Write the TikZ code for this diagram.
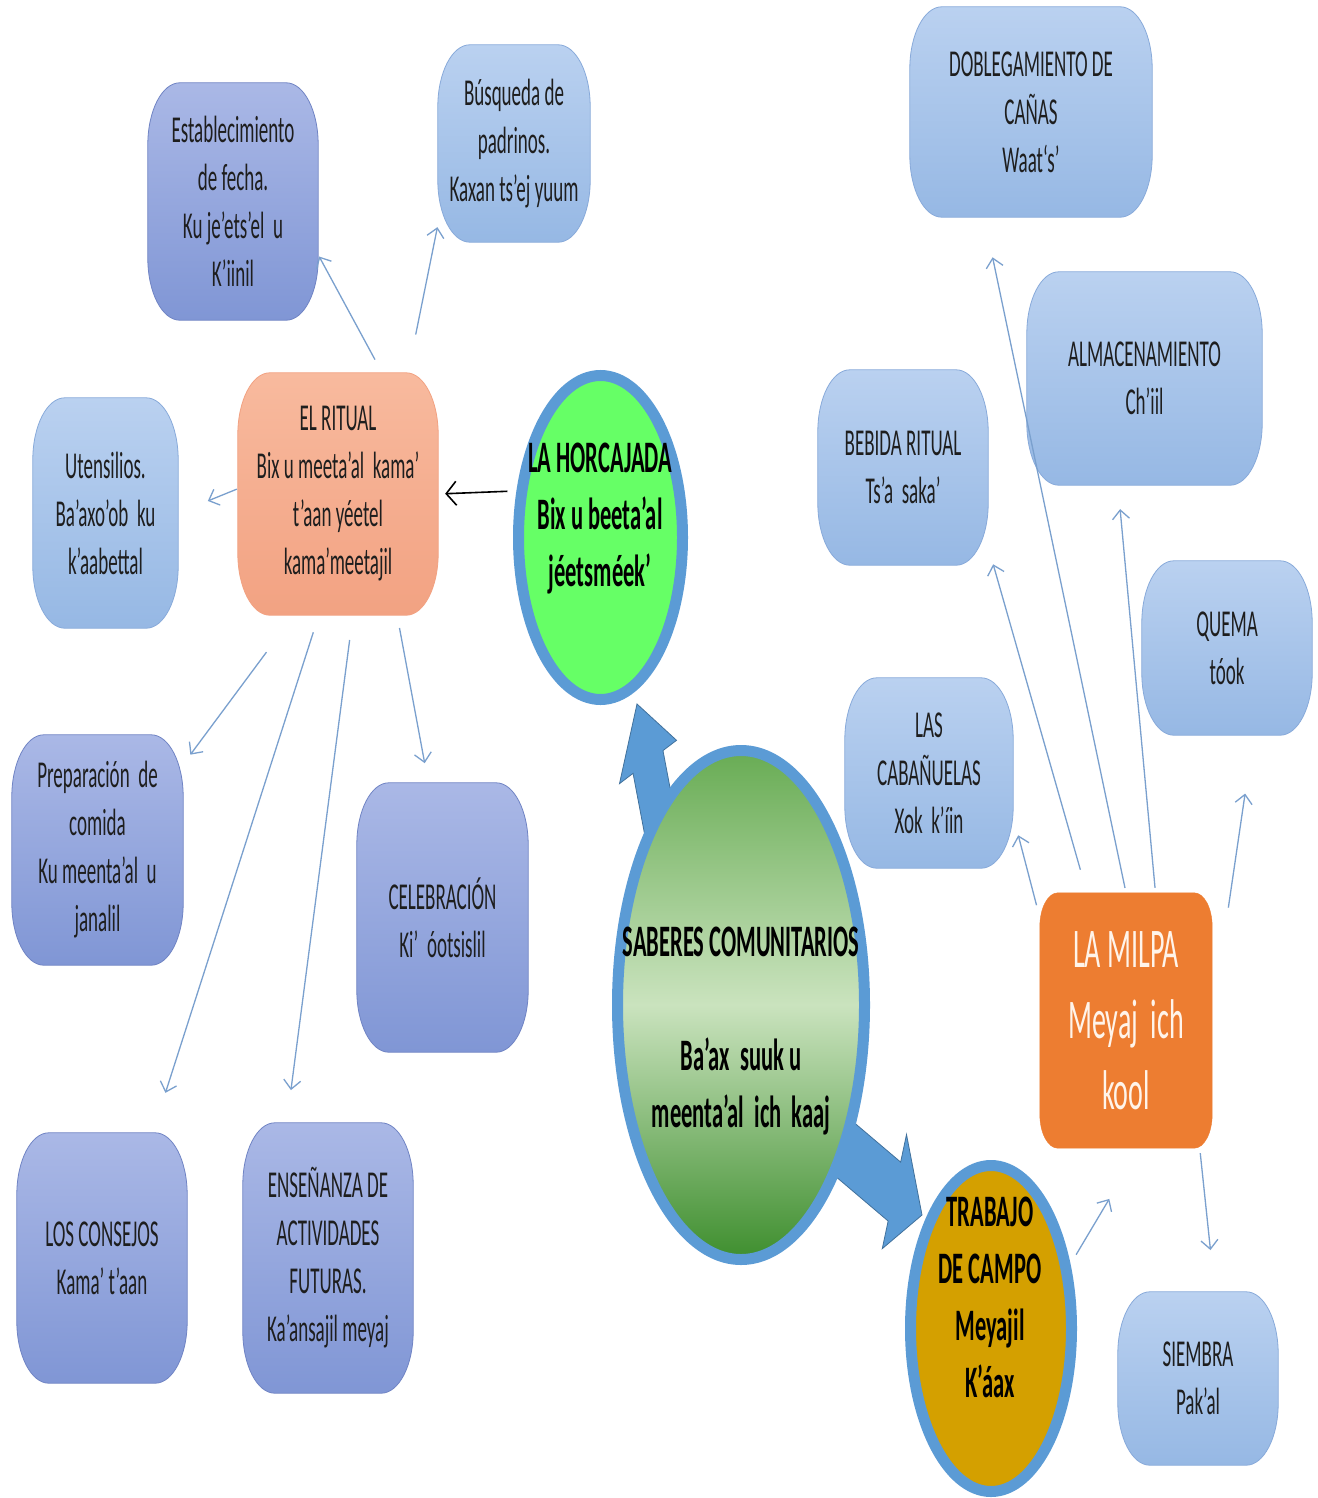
\documentclass[tikz,border=0pt]{standalone}
\usepackage{fontspec}
\setmainfont{Carlito}[FakeStretch=0.5]
\usetikzlibrary{shapes.geometric,arrows.meta,backgrounds}

\definecolor{inkgrey}{RGB}{30,30,30}
\definecolor{lilactop}{RGB}{170,184,230}
\definecolor{lilacbot}{RGB}{128,150,213}
\definecolor{lilacline}{RGB}{112,132,196}
\definecolor{skytop}{RGB}{186,209,240}
\definecolor{skybot}{RGB}{150,184,228}
\definecolor{skyline}{RGB}{136,170,218}
\definecolor{salmontop}{RGB}{248,186,158}
\definecolor{salmonbot}{RGB}{242,162,130}
\definecolor{ringblue}{RGB}{91,155,213}
\definecolor{ringedge}{RGB}{65,113,156}
\definecolor{horgreen}{RGB}{102,255,102}
\definecolor{sabtop}{RGB}{104,172,84}
\definecolor{sabdark}{RGB}{62,142,46}
\definecolor{sablight}{RGB}{202,227,190}
\definecolor{campogold}{RGB}{212,160,0}
\definecolor{milpaorange}{RGB}{237,125,49}
\definecolor{milpaink}{RGB}{255,244,234}
\definecolor{linkblue}{RGB}{122,160,206}

\tikzset{
  boxtext/.style={inner sep=0pt, align=center, text=inkgrey,
    font=\fontsize{38}{48}\selectfont},
  milpatext/.style={inner sep=0pt, align=center, text=milpaink,
    font=\fontsize{56}{71}\selectfont},
  lilac/.style={top color=lilactop, bottom color=lilacbot, draw=lilacline, line width=0.8pt},
  sky/.style={top color=skytop, bottom color=skybot, draw=skyline, line width=0.8pt},
  salmon/.style={top color=salmontop, bottom color=salmonbot, draw=salmonbot, line width=0.8pt},
  milpafill/.style={fill=milpaorange, draw=milpaorange},
  hub/.style={ellipse, inner sep=0pt, draw=ringblue, line width=11pt},
  hubtext/.style={inner sep=0pt, align=center, text=black,
    font=\bfseries\fontsize{45}{57}\selectfont},
  fatarrow/.style={fill=ringblue, draw=ringedge, line width=0.8pt, line join=miter}
}

% corner radii of the boxes
\newcommand\cornx{32pt}
\newcommand\corny{62pt}
% box: [text style]{name}{centre}{width}{height}{frame style}{text}
\newcommand\mapbox[7][boxtext]{%
  \node[#1, minimum width=#4pt, minimum height=#5pt] (#2) at (#3) {#7};
  \begin{pgfonlayer}{background}
    \path[#6] ([xshift=\cornx]#2.north west) -- ([xshift=-\cornx]#2.north east)
      arc[start angle=90, end angle=0, x radius=\cornx, y radius=\corny]
      -- ([yshift=\corny]#2.south east)
      arc[start angle=0, end angle=-90, x radius=\cornx, y radius=\corny]
      -- ([xshift=\cornx]#2.south west)
      arc[start angle=-90, end angle=-180, x radius=\cornx, y radius=\corny]
      -- ([yshift=-\corny]#2.north west)
      arc[start angle=180, end angle=90, x radius=\cornx, y radius=\corny]
      -- cycle;
  \end{pgfonlayer}%
}

\begin{document}
\begin{tikzpicture}[x=1pt, y=-1pt]
  \begin{pgfonlayer}{background}
    \path[fill=white, use as bounding box] (0,0) rectangle (1317,1498);
  \end{pgfonlayer}

  % left group
  \mapbox{estab}{233,201.5}{170}{237}{lilac}{Establecimiento\\de fecha.\\Ku je’ets’el\ \ u\\K’iinil}
  \mapbox{busq}{514,143.5}{152}{197}{sky}{Búsqueda de\\padrinos.\\Kaxan ts’ej yuum}
  \mapbox{utens}{105.5,513}{145}{230}{sky}{Utensilios.\\Ba’axo’ob\ \ ku\\k’aabettal}
  \mapbox{ritual}{338,494}{200}{242}{salmon}{EL RITUAL\\Bix u meeta’al\ \ kama’\\t’aan yéetel\\kama’meetajil}
  \mapbox{prep}{97.5,850}{171}{230}{lilac}{Preparación\ \ de\\comida\\Ku meenta’al\ \ u\\janalil}
  \mapbox{celeb}{442.5,917.5}{171}{269}{lilac}{CELEBRACIÓN\\Ki’\ \ óotsislil}
  \mapbox{consejos}{102,1258}{170}{250}{lilac}{LOS CONSEJOS\\Kama’ t’aan}
  \mapbox{ensen}{328,1258}{170}{270}{lilac}{ENSEÑANZA DE\\ACTIVIDADES\\FUTURAS.\\Ka’ansajil meyaj}

  % right group
  \mapbox{dobl}{1031,112}{242}{210}{sky}{DOBLEGAMIENTO DE\\CAÑAS\\Waat‘s’}
  \mapbox{almac}{1144.5,378.5}{235}{213}{sky}{ALMACENAMIENTO\\Ch’iil}
  \mapbox{bebida}{903,467.5}{170}{195}{sky}{BEBIDA RITUAL\\Ts’a\ \ saka’}
  \mapbox{quema}{1227,648}{170}{174}{sky}{QUEMA\\tóok}
  \mapbox{cabanu}{929,773}{168}{190}{sky}{LAS\\CABAÑUELAS\\Xok\ \ k’íin}
  \mapbox{siembra}{1198,1378.5}{160}{173}{sky}{SIEMBRA\\Pak’al}
  \renewcommand\cornx{18pt}
  \renewcommand\corny{34pt}
  \mapbox[milpatext]{milpa}{1126,1020.5}{172}{255}{milpafill}{LA MILPA\\Meyaj\ \ ich\\kool}

  % big arrows out of the centre
  \coordinate (tipHor) at (637,704);
  \coordinate (tipCampo) at (922,1215);
  \begin{scope}[shift={(tipHor)}, xscale=0.5, rotate=110.8]
    \path[fatarrow] (0,0) -- (-62,61) -- (-62,32) -- (-190,32) -- (-190,-32) -- (-62,-32) -- (-62,-61) -- cycle;
  \end{scope}
  \begin{scope}[shift={(tipCampo)}, xscale=0.5, rotate=-23]
    \path[fatarrow] (0,0) -- (-60,62) -- (-60,32) -- (-200,32) -- (-200,-32) -- (-60,-32) -- (-60,-62) -- cycle;
  \end{scope}

  % circles
  \node[hub, fill=horgreen, minimum width=164pt, minimum height=324pt] (hor) at (600.5,537.5) {};
  \node[hub, top color=sabtop, bottom color=sabdark, middle color=sablight,
        minimum width=247pt, minimum height=509pt] (sab) at (741,1005) {};
  \node[hub, fill=campogold, minimum width=161pt, minimum height=326pt] (campo) at (991,1328.5) {};
  \node[hubtext] (horText) at (600,519) {LA HORCAJADA\\Bix u beeta’al\\jéetsméek’};
  \node[hubtext] (sabText) at (741,1031) {SABERES COMUNITARIOS\\[57pt]Ba’ax\ \ suuk u\\meenta’al\ \ ich\ \ kaaj};
  \node[hubtext] (campoText) at (990,1297) {TRABAJO\\DE CAMPO\\Meyajil\\K’áax};

  \draw (hor.151) edge[draw=black, line width=1.6pt, -{Straight Barb[length=10pt,width=24pt]},
        shorten <=9pt, shorten >=7pt] (ritual.east);

  \begin{scope}[every edge/.style={draw=linkblue, line width=1.3pt, -{Straight Barb[length=9pt,width=17pt]}}]
    \draw (ritual.70) edge[shorten <=15pt, shorten >=2pt] (estab.-32);
    \draw (ritual.60) edge[shorten <=39pt, shorten >=2pt] (busq.227);
    \draw (ritual.177) edge[shorten <=1pt, shorten >=32pt] (utens.east);
    \draw (ritual.250) edge[shorten <=46pt, shorten >=12pt] (prep.45);
    \draw (ritual.261) edge[shorten <=18pt, shorten >=42pt] (consejos.68);
    \draw (ritual.277) edge[shorten <=25pt, shorten >=33pt] (ensen.107);
    \draw (ritual.296) edge[shorten <=13pt, shorten >=20pt] (celeb.96);

    \draw (milpa.130) edge[shorten <=13pt, shorten >=20pt] (cabanu.-27);
    \draw (milpa.107) edge[shorten <=24pt, shorten >=18pt] (bebida.-43);
    \draw (milpa.north) edge[shorten <=5pt, shorten >=41pt] (dobl.246);
    \draw (milpa.77) edge[shorten <=5pt, shorten >=24pt] (almac.256);
    \draw (milpa.2) edge[shorten <=111pt, shorten >=59pt] (quema.-73);
    \draw (milpa.-60) edge[shorten <=5pt, shorten >=42pt] (siembra.79);
    \draw (campo.39) edge[shorten <=11pt, shorten >=59pt] (milpa.-84);
  \end{scope}
\end{tikzpicture}
\end{document}
